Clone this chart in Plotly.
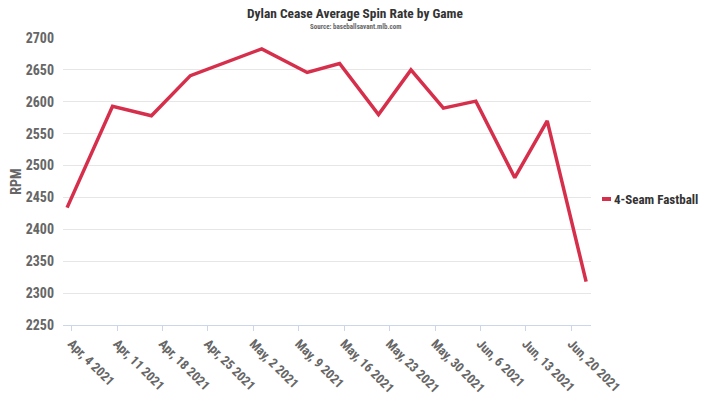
import plotly.graph_objects as go

game_dates = ["2021-04-03 07:00", "2021-04-10 07:00", "2021-04-16 07:00", "2021-04-22 07:00",
              "2021-05-03 07:00", "2021-05-10 07:00", "2021-05-15 07:00", "2021-05-21 07:00",
              "2021-05-26 07:00", "2021-05-31 07:00", "2021-06-05 07:00", "2021-06-11 07:00",
              "2021-06-16 07:00", "2021-06-22 07:00"]
spin_rpm = [2434, 2593, 2578, 2641, 2683, 2646, 2660, 2580, 2650, 2590, 2601, 2481, 2570, 2318]
series_name = "4-Seam Fastball"
y_ticks = [2250, 2300, 2350, 2400, 2450, 2500, 2550, 2600, 2650, 2700]

FONT = "Roboto Condensed, Liberation Sans Narrow, DejaVu Sans Condensed, Roboto, sans-serif"
RED = "#d62f4b"

fig = go.Figure()
fig.add_trace(go.Scatter(x=game_dates, y=spin_rpm, mode="lines", name=series_name,
                         line=dict(color=RED, width=3.5), showlegend=False))

fig.update_layout(
    width=710, height=399,
    margin=dict(l=63, r=119, t=38, b=74, autoexpand=False),
    paper_bgcolor="white", plot_bgcolor="white",
    font=dict(family=FONT, color="#666666"),
    title=dict(text="<b>Dylan Cease Average Spin Rate by Game</b>", x=0.5, xref="container",
               xanchor="center", y=1 - 13 / 399, yref="container", yanchor="middle",
               font=dict(family=FONT, size=13.4, color="#333333")),
)
fig.update_xaxes(
    type="date", range=["2021-04-02 15:50", "2021-06-23 01:00"],
    tick0="2021-04-04", dtick=7 * 24 * 3600 * 1000, tickformat="%b, %-d %Y",
    tickangle=45, ticks="outside", ticklen=5, tickcolor="#ccd6eb",
    showline=True, linecolor="#ccd6eb", linewidth=1, showgrid=False, zeroline=False,
    tickfont=dict(family=FONT, size=13, color="#666666", weight="bold"),
)
fig.update_yaxes(
    range=[2250, 2700], tickvals=y_ticks, showgrid=True, gridcolor="#e6e6e6", gridwidth=1,
    zeroline=False, showline=False, ticks="", ticklabelstandoff=8,
    tickfont=dict(family=FONT, size=14, color="#666666", weight="bold"),
    title=dict(text="<b>RPM</b>", standoff=0, font=dict(family=FONT, size=14, color="#666666")),
)
# subtitle
fig.add_annotation(text="<b>Source: baseballsavant.mlb.com</b>", xref="paper", yref="paper",
                   x=(355 - 63) / 528, y=1 + (38 - 27) / 287, xanchor="center", yanchor="middle",
                   showarrow=False, font=dict(family=FONT, size=7, color="#666666"))
# legend
fig.add_shape(type="line", xref="paper", yref="paper",
              x0=1 + (602 - 591) / 528, x1=1 + (611 - 591) / 528,
              y0=(325 - 199) / 287, y1=(325 - 199) / 287,
              line=dict(color=RED, width=4))
fig.add_annotation(text="<b>" + series_name + "</b>", xref="paper", yref="paper",
                   x=1 + (612 - 591) / 528, y=(325 - 199) / 287, xanchor="left", yanchor="middle",
                   showarrow=False, font=dict(family=FONT, size=13, color="#333333"))

fig.write_html("out.html", config={"displayModeBar": False},
               post_script="document.body.style.margin='0';document.body.style.padding='0';")
